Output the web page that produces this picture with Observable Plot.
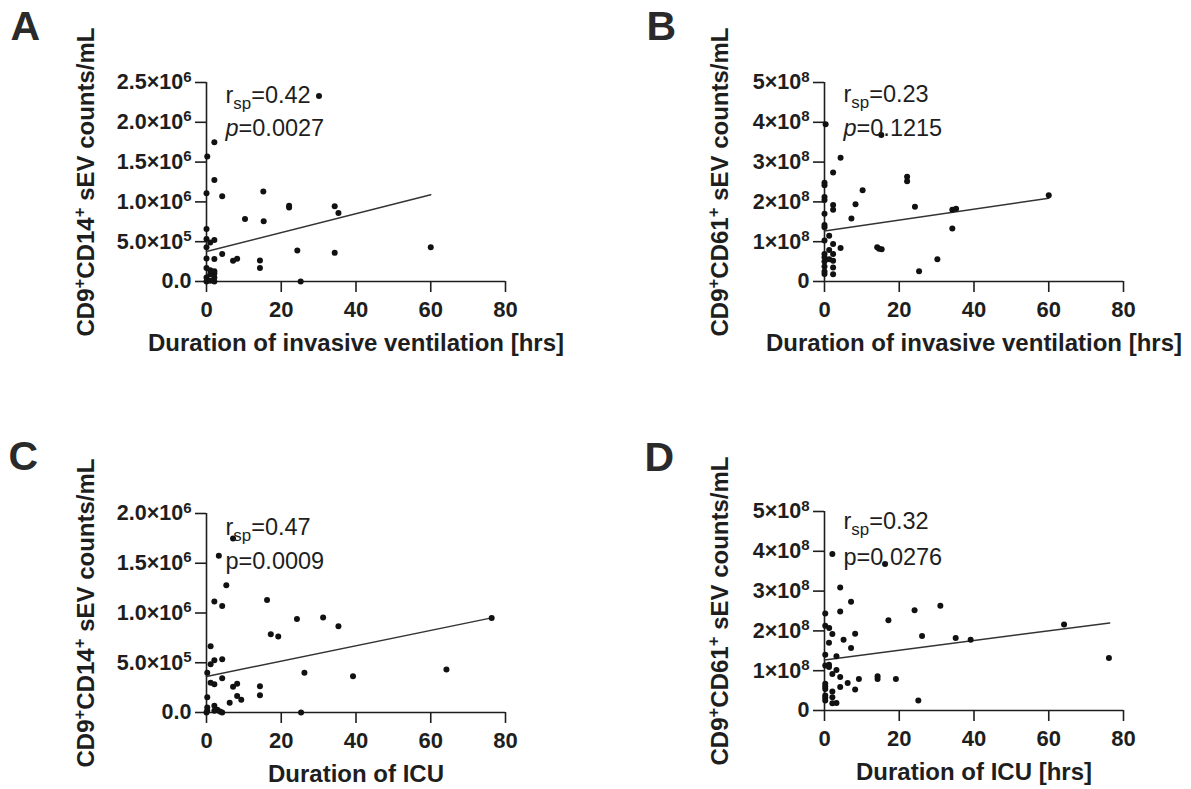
<!DOCTYPE html>
<html>
<head>
<meta charset="utf-8">
<script src="https://cdn.jsdelivr.net/npm/d3@7"></script>
<script src="https://cdn.jsdelivr.net/npm/@observablehq/plot@0.6"></script>
<style>
  body { margin: 0; background: #fff; }
  #root { position: relative; width: 1191px; height: 789px; overflow: hidden; background: #fff; }
  .panel { position: absolute; }
  .panel svg { overflow: visible; }
</style>
</head>
<body>
<div id="root"></div>
<script>
// ---------- DATA ----------
// Panel A: duration of invasive ventilation [hrs] vs CD9+CD14+ sEV counts/mL
const A_x = [30.1, 2.1, 0.2, 2.1, 0, 4.2, 15.2, 22.1, 22.1, 34.3, 35.3, 10.3, 15.3, 0, 0, 2.1, 1, 0, 24.3, 60, 34.3, 4.2, 2.1, 0, 7.1, 8.2, 14.3, 14.3, 0, 1, 2.1, 0, 2.1, 0, 1, 2.1, 25.2, 1, 2.1];
const A_y = [2.33e6, 1.75e6, 1.57e6, 1.275e6, 1.11e6, 1.07e6, 1.13e6, 0.953e6, 0.93e6, 0.945e6, 0.86e6, 0.786e6, 0.757e6, 0.66e6, 0.535e6, 0.52e6, 0.49e6, 0.43e6, 0.39e6, 0.43e6, 0.36e6, 0.347e6, 0.284e6, 0.29e6, 0.26e6, 0.285e6, 0.263e6, 0.17e6, 0.17e6, 0.14e6, 0.1e6, 0.05e6, 0.05e6, 0, 0.01e6, 0, 0, 0.09e6, 0.13e6];
const A_fitX = [0, 60];
const A_fitY = [3.76e5, 1.09e6];

// Panel B: duration of invasive ventilation [hrs] vs CD9+CD61+ sEV counts/mL
const B_x = [0.3, 15.2, 4.3, 2.3, 22.1, 22.1, 0, 0, 10.2, 0, 0, 60, 2.3, 2.3, 8.3, 24.2, 34.2, 35.2, 0, 7.2, 0, 0, 34.2, 1.25, 0, 2.3, 4.3, 14.1, 14.6, 15.3, 1.25, 2.3, 0, 0, 1.25, 2.3, 0, 30.2, 0, 2.3, 0, 2.3, 25.3, 0];
const B_y = [3.95e8, 3.68e8, 3.11e8, 2.74e8, 2.63e8, 2.52e8, 2.48e8, 2.42e8, 2.29e8, 2.12e8, 2.05e8, 2.17e8, 1.92e8, 1.8e8, 1.94e8, 1.88e8, 1.8e8, 1.83e8, 1.70e8, 1.58e8, 1.42e8, 1.36e8, 1.33e8, 1.15e8, 1.03e8, 0.94e8, 0.84e8, 0.86e8, 0.82e8, 0.81e8, 0.79e8, 0.69e8, 0.69e8, 0.61e8, 0.56e8, 0.52e8, 0.5e8, 0.56e8, 0.38e8, 0.35e8, 0.25e8, 0.18e8, 0.26e8, 0.19e8];
const B_fitX = [0, 60];
const B_fitY = [1.27e8, 2.09e8];

// Panel C: duration of ICU vs CD9+CD14+ sEV counts/mL
const C_x = [7.1, 3.3, 5.3, 2.1, 4.2, 16.2, 24.2, 31.2, 35.3, 76.3, 17.2, 19.2, 1.1, 2.1, 4.2, 1.1, 0.2, 26.2, 39.2, 64.2, 4.2, 1.1, 2.1, 7.1, 8.2, 14.3, 14.3, 8.2, 9.3, 6.2, 0.2, 0.2, 0.2, 2.1, 2.9, 3.6, 4.2, 25.3, 2.1, 0];
const C_y = [1.75e6, 1.575e6, 1.28e6, 1.116e6, 1.07e6, 1.13e6, 0.94e6, 0.955e6, 0.868e6, 0.95e6, 0.787e6, 0.764e6, 0.667e6, 0.526e6, 0.536e6, 0.486e6, 0.4e6, 0.4e6, 0.365e6, 0.432e6, 0.345e6, 0.298e6, 0.285e6, 0.26e6, 0.29e6, 0.265e6, 0.174e6, 0.167e6, 0.127e6, 0.097e6, 0.154e6, 0.05e6, 0.017e6, 0.067e6, 0.027e6, 0.01e6, 0, 0, 0.017e6, 0];
const C_fitX = [0, 76.3];
const C_fitY = [3.62e5, 9.51e5];

// Panel D: duration of ICU [hrs] vs CD9+CD61+ sEV counts/mL
const D_x = [2.1, 16.2, 4.2, 7.1, 31.0, 24.1, 4.2, 0.2, 17.1, 64.1, 0.2, 1.25, 2.1, 8.2, 26.1, 35.1, 39.1, 5.1, 1.2, 7.1, 0.2, 3.2, 76.1, 1.2, 0.2, 1.2, 3.2, 2.1, 4.2, 14.2, 14.2, 19.1, 9.2, 6.2, 0.2, 0.2, 4.2, 0.2, 8.2, 2.1, 0.2, 2.1, 0.2, 0.2, 25.1, 2.1, 3.2];
const D_y = [3.93e8, 3.68e8, 3.09e8, 2.73e8, 2.63e8, 2.52e8, 2.49e8, 2.44e8, 2.27e8, 2.16e8, 2.13e8, 2.07e8, 1.92e8, 1.93e8, 1.87e8, 1.82e8, 1.78e8, 1.78e8, 1.70e8, 1.57e8, 1.40e8, 1.36e8, 1.32e8, 1.15e8, 1.13e8, 1.09e8, 1.02e8, 0.92e8, 0.84e8, 0.86e8, 0.79e8, 0.79e8, 0.79e8, 0.69e8, 0.67e8, 0.6e8, 0.59e8, 0.54e8, 0.53e8, 0.48e8, 0.38e8, 0.33e8, 0.32e8, 0.25e8, 0.25e8, 0.18e8, 0.19e8];
const D_fitX = [0, 76.3];
const D_fitY = [1.27e8, 2.2e8];

// Axes ticks and labels
const xTicks = [0, 20, 40, 60, 80];
const yTicksCD14A = [0, 5e5, 1e6, 1.5e6, 2e6, 2.5e6];
const yLabelsCD14A = ["0.0", "5.0×10^{5}", "1.0×10^{6}", "1.5×10^{6}", "2.0×10^{6}", "2.5×10^{6}"];
const yTicksCD14C = [0, 5e5, 1e6, 1.5e6, 2e6];
const yLabelsCD14C = ["0.0", "5.0×10^{5}", "1.0×10^{6}", "1.5×10^{6}", "2.0×10^{6}"];
const yTicksCD61 = [0, 1e8, 2e8, 3e8, 4e8, 5e8];
const yLabelsCD61 = ["0", "1×10^{8}", "2×10^{8}", "3×10^{8}", "4×10^{8}", "5×10^{8}"];

// Text
const letters = ["A", "B", "C", "D"];
const xTitles = ["Duration of invasive ventilation [hrs]", "Duration of invasive ventilation [hrs]", "Duration of ICU", "Duration of ICU [hrs]"];
const yTitles = ["CD9^{+}CD14^{+} sEV counts/mL", "CD9^{+}CD61^{+} sEV counts/mL", "CD9^{+}CD14^{+} sEV counts/mL", "CD9^{+}CD61^{+} sEV counts/mL"];
const rStats = ["r_{sp}=0.42", "r_{sp}=0.23", "r_{sp}=0.47", "r_{sp}=0.32"];
const pStats = ["~{p}=0.0027", "~{p}=0.1215", "p=0.0009", "p=0.0276"];

// ---------- DRAWING ----------
const FONT = '"Liberation Sans", Arial, Helvetica, sans-serif';
const INK = "#1e1e1e";

function panel(cfg) {
  const pts = cfg.xs.map((x, i) => ({x, y: cfg.ys[i]}));
  const fit = cfg.fitX.map((x, i) => ({x, y: cfg.fitY[i]}));
  const labelMap = new Map(cfg.yTicks.map((t, i) => [t, cfg.yLabels[i]]));
  const plot = Plot.plot({
    width: cfg.width, height: cfg.height,
    marginLeft: cfg.ml, marginRight: cfg.width - cfg.ml - 299,
    marginTop: cfg.mt, marginBottom: cfg.height - cfg.mt - 199,
    style: {fontFamily: FONT, color: INK, background: "transparent", overflow: "visible"},
    x: {domain: [0, 80]},
    y: {domain: cfg.yDomain},
    marks: [
      Plot.ruleX([0], {stroke: INK, strokeWidth: 1.6}),
      Plot.ruleY([0], {stroke: INK, strokeWidth: 1.6}),
      Plot.axisX({ticks: xTicks, tickSize: 11, tickPadding: 9, fontSize: 22, fontWeight: "bold", strokeWidth: 1.6, label: null, tickFormat: d => String(d)}),
      Plot.axisY({ticks: cfg.yTicks, tickSize: 11, tickPadding: 4, fontSize: 21.5, fontWeight: "bold", strokeWidth: 1.6, label: null, tickFormat: d => labelMap.get(d)}),
      Plot.line(fit, {x: "x", y: "y", stroke: "#333", strokeWidth: 1.5}),
      Plot.dot(pts, {x: "x", y: "y", r: 3, fill: "#111", stroke: "none"}),
      Plot.text([cfg.r], {text: d => d, frameAnchor: "top-left", dx: 19, dy: cfg.rdy, lineAnchor: "bottom", textAnchor: "start", fontSize: 23.5, fill: INK}),
      Plot.text([cfg.p], {text: d => d, frameAnchor: "top-left", dx: 19, dy: cfg.pdy, lineAnchor: "bottom", textAnchor: "start", fontSize: 23.5, fill: INK}),
      Plot.text([cfg.xTitle], {text: d => d, frameAnchor: "bottom", dy: 69, lineAnchor: "bottom", textAnchor: "middle", fontSize: 24, fontWeight: "bold", fill: INK}),
      Plot.text([cfg.yTitle], {text: d => d, frameAnchor: "left", dx: cfg.ydx, rotate: -90, lineAnchor: "bottom", textAnchor: "middle", fontSize: 24, fontWeight: "bold", fill: INK}),
      Plot.text([cfg.letter], {text: d => d, frameAnchor: "top-left", dx: cfg.ldx, dy: cfg.ldy, lineAnchor: "bottom", textAnchor: "start", fontSize: 41, fontWeight: "bold", fill: "#2a2a2a"})
    ]
  });
  const div = document.createElement("div");
  div.className = "panel";
  div.style.left = cfg.left + "px";
  div.style.top = cfg.top + "px";
  div.appendChild(plot);
  document.getElementById("root").appendChild(div);
  richify(div);
}

// Turn ^{..} (superscript), _{..} (subscript), ~{..} (italic) into tspans
function richify(root) {
  root.querySelectorAll("text").forEach(t => {
    const s = t.textContent;
    if (!/[\^_~]\{/.test(s)) return;
    const fs = parseFloat(getComputedStyle(t).fontSize) || 20;
    while (t.firstChild) t.removeChild(t.firstChild);
    const re = /([\^_~])\{([^}]*)\}|([^\^_~]+)/g;
    let m, cur = 0;
    while ((m = re.exec(s))) {
      const ts = document.createElementNS("http://www.w3.org/2000/svg", "tspan");
      let off = 0;
      if (m[1] === "^") { off = -0.36 * fs; ts.setAttribute("font-size", (0.7 * fs) + "px"); ts.textContent = m[2]; }
      else if (m[1] === "_") { off = 0.26 * fs; ts.setAttribute("font-size", (0.72 * fs) + "px"); ts.textContent = m[2]; }
      else if (m[1] === "~") { ts.setAttribute("font-style", "italic"); ts.textContent = m[2]; }
      else { ts.textContent = m[3]; }
      if (off !== cur) { ts.setAttribute("dy", (off - cur) + "px"); cur = off; }
      t.appendChild(ts);
    }
  });
}

panel({left: 0, top: 0, width: 595, height: 394, ml: 206, mt: 82,
  xs: A_x, ys: A_y, fitX: A_fitX, fitY: A_fitY, yDomain: [0, 2.5e6],
  yTicks: yTicksCD14A, yLabels: yLabelsCD14A,
  r: rStats[0], p: pStats[0], rdy: 20, pdy: 53,
  xTitle: xTitles[0], yTitle: yTitles[0], ydx: -113,
  letter: letters[0], ldx: -196, ldy: -42.5});

panel({left: 595, top: 0, width: 596, height: 394, ml: 229, mt: 82,
  xs: B_x, ys: B_y, fitX: B_fitX, fitY: B_fitY, yDomain: [0, 5e8],
  yTicks: yTicksCD61, yLabels: yLabelsCD61,
  r: rStats[1], p: pStats[1], rdy: 19, pdy: 53,
  xTitle: xTitles[1], yTitle: yTitles[1], ydx: -97,
  letter: letters[1], ldx: -178, ldy: -42.5});

panel({left: 0, top: 394, width: 595, height: 395, ml: 206, mt: 119,
  xs: C_x, ys: C_y, fitX: C_fitX, fitY: C_fitY, yDomain: [0, 2e6],
  yTicks: yTicksCD14C, yLabels: yLabelsCD14C,
  r: rStats[2], p: pStats[2], rdy: 21, pdy: 55,
  xTitle: xTitles[2], yTitle: yTitles[2], ydx: -113,
  letter: letters[2], ldx: -198, ldy: -43.5});

panel({left: 595, top: 394, width: 596, height: 395, ml: 229, mt: 117,
  xs: D_x, ys: D_y, fitX: D_fitX, fitY: D_fitY, yDomain: [0, 5e8],
  yTicks: yTicksCD61, yLabels: yLabelsCD61,
  r: rStats[3], p: pStats[3], rdy: 17, pdy: 53,
  xTitle: xTitles[3], yTitle: yTitles[3], ydx: -97,
  letter: letters[3], ldx: -180, ldy: -41});
</script>
</body>
</html>
